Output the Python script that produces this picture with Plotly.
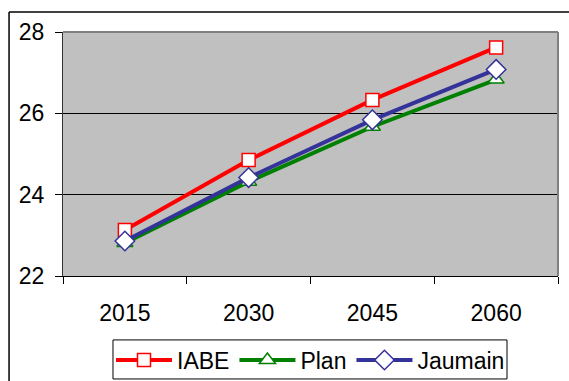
import plotly.graph_objects as go

years = ["2015", "2030", "2045", "2060"]
iabe = [23.13, 24.85, 26.33, 27.62]
plan = [22.81, 24.32, 25.67, 26.83]
jaumain = [22.86, 24.42, 25.84, 27.08]

FONT = "Liberation Sans, Arial, sans-serif"

fig = go.Figure()
series = [
    ("IABE", iabe, "#FF0000", "square", 13),
    ("Plan", plan, "#008000", "triangle-up", 14),
    ("Jaumain", jaumain, "#333399", "diamond", 15),
]
for name, vals, col, sym, sz in series:
    fig.add_trace(go.Scatter(
        x=years, y=vals, name=name, mode="lines+markers",
        line=dict(color=col, width=4),
        marker=dict(symbol=sym, size=sz, color="white",
                    line=dict(color=col, width=1.5)),
    ))

fig.update_layout(
    width=569, height=381,
    margin=dict(l=63, r=11, t=32, b=105, autoexpand=False),
    paper_bgcolor="white", plot_bgcolor="#C0C0C0",
    font=dict(family=FONT, size=23, color="black"),
    showlegend=True,
    legend=dict(orientation="h", x=0.5, xanchor="center",
                y=1 - 360 / 381, yref="container", yanchor="middle",
                borderwidth=0, bgcolor="rgba(0,0,0,0)",
                font=dict(size=23), itemwidth=56, tracegroupgap=0),
    xaxis=dict(type="category", range=[-0.5, 3.5], tickson="boundaries",
               ticks="outside", ticklen=7, tickcolor="black",
               showline=True, linecolor="black", linewidth=1,
               showgrid=False, zeroline=False, ticklabelstandoff=16),
    yaxis=dict(range=[22, 28], dtick=2, ticks="outside", ticklen=7, tickcolor="black",
               showline=True, linecolor="#333333", linewidth=1,
               showgrid=True, gridcolor="black", gridwidth=1, zeroline=False,
               ticklabelstandoff=6),
    shapes=[
        dict(type="line", xref="paper", yref="paper", x0=0, x1=1, y0=1, y1=1,
             line=dict(color="#808080", width=2)),
        dict(type="line", xref="paper", yref="paper", x0=1, x1=1, y0=0, y1=1,
             line=dict(color="#808080", width=2)),
        dict(type="line", xref="paper", yref="paper", x0=-0.109, x1=1.05, y0=1.082, y1=1.082,
             line=dict(color="black", width=1.5)),
        dict(type="line", xref="paper", yref="paper", x0=-0.109, x1=-0.109, y0=1.082, y1=-0.5,
             line=dict(color="black", width=1.5)),
        dict(type="rect", xref="paper", yref="paper", x0=0.101, x1=0.897, y0=-0.422, y1=-0.262,
             line=dict(color="black", width=1), fillcolor="rgba(0,0,0,0)"),
    ],
)

fig.write_html("out.html")
